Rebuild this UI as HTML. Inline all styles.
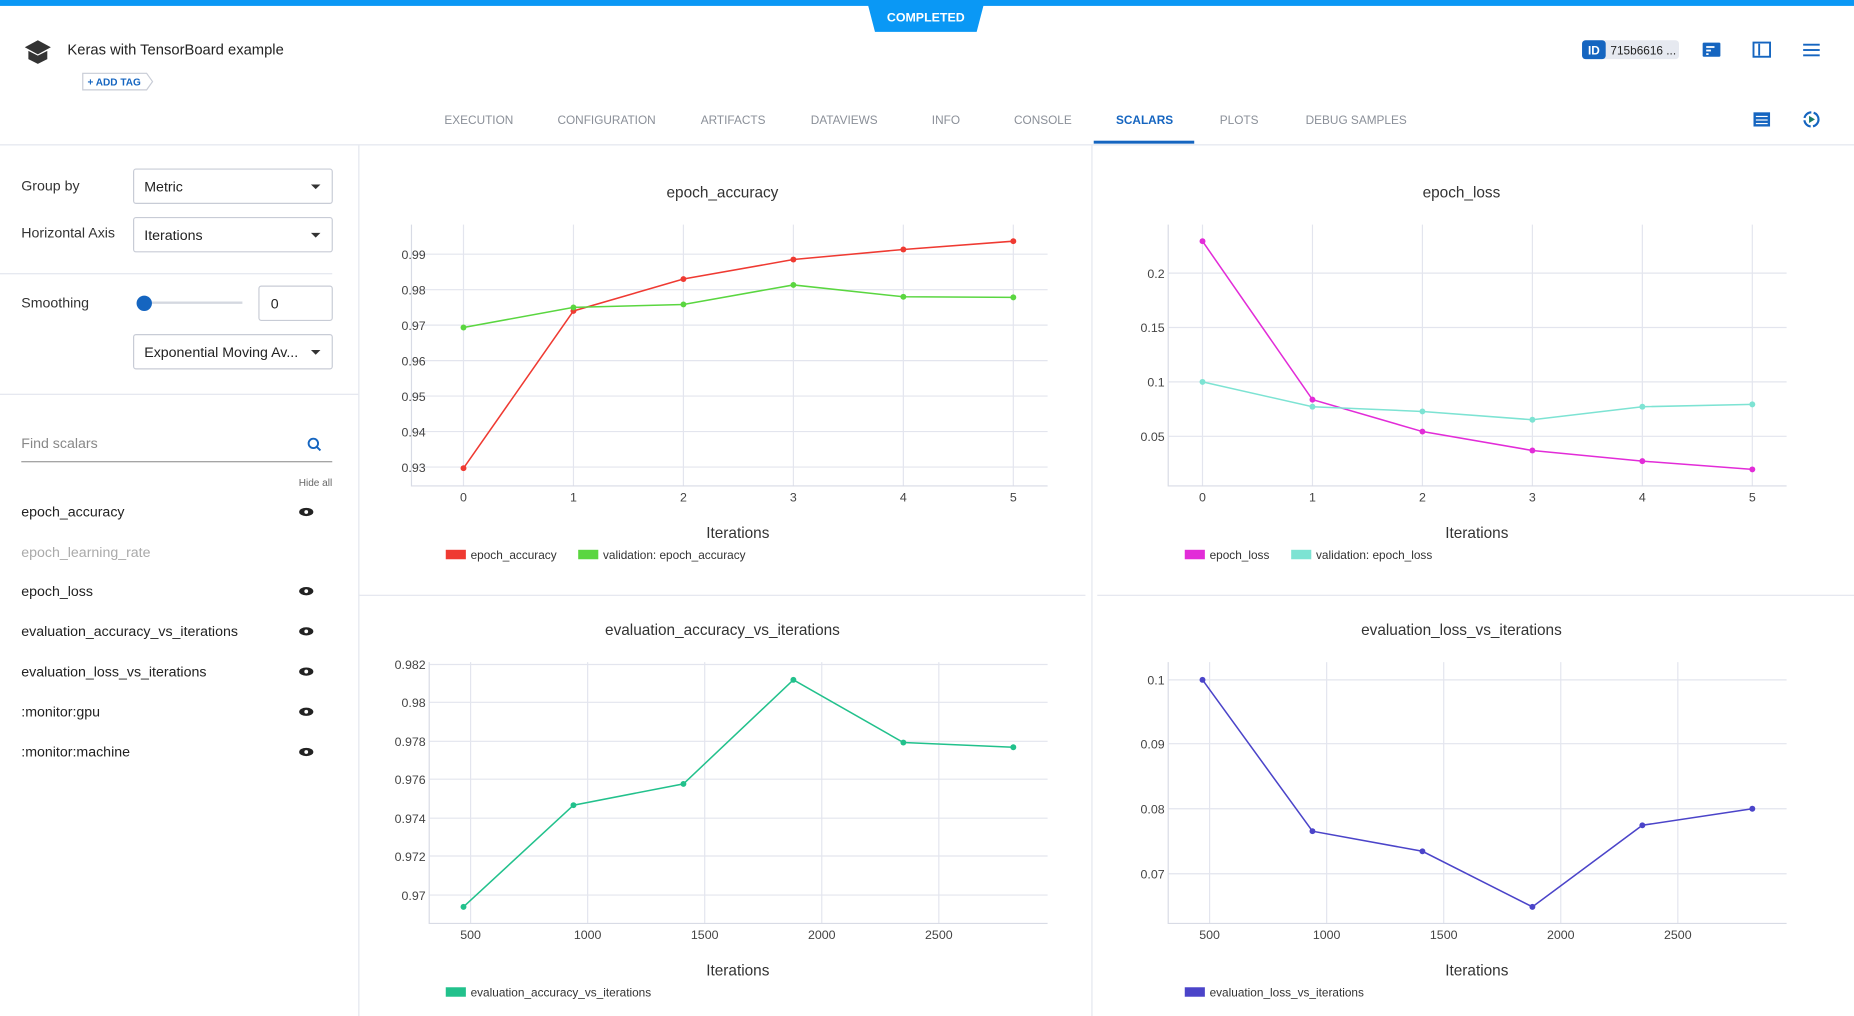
<!DOCTYPE html>
<html><head><meta charset="utf-8"><style>
html,body{margin:0;padding:0;background:#fff;overflow:hidden}
svg{display:block;font-family:"Liberation Sans",sans-serif}
</style></head><body>
<svg width="1854" height="1016" viewBox="0 0 1568 859.3" preserveAspectRatio="none" xmlns="http://www.w3.org/2000/svg">
<rect width="1568" height="860" fill="#fff"/>
<rect width="1568" height="5" fill="#0a98f5"/>
<polygon points="733,0 833,0 826,27 740,27" fill="#0a98f5"/>
<text x="783" y="18" font-size="10.5" fill="#fff" text-anchor="middle" font-weight="bold">COMPLETED</text>
<!-- logo -->
<polygon points="32,34 43,40 32,46 21,40" fill="#333"/>
<path d="M24,43 L24,50 L32,54 L40,50 L40,43 L32,47 Z" fill="#333"/>
<text x="57" y="46" font-size="12.5" fill="#222">Keras with TensorBoard example</text>
<path d="M70,62 H124 L129,69 L124,76 H70 Z" fill="#fff" stroke="#c8ccd6"/>
<text x="74" y="72.5" font-size="8.5" fill="#1565c0" font-weight="bold">+ ADD TAG</text>
<!-- id badge -->
<rect x="1338" y="34" width="82" height="16" rx="3" fill="#e6e9f0"/>
<rect x="1338" y="34" width="20" height="16" rx="3" fill="#1565c0"/>
<text x="1348" y="46" font-size="10" fill="#fff" font-weight="bold" text-anchor="middle">ID</text>
<text x="1362" y="46" font-size="10" fill="#222">715b6616 ...</text>
<rect x="1440" y="36" width="15" height="12" rx="1" fill="#1565c0"/>
<rect x="1443" y="39" width="7" height="1.5" fill="#fff"/><rect x="1443" y="42" width="4" height="1.5" fill="#fff"/><rect x="1443" y="45" width="2" height="1.5" fill="#fff"/>
<rect x="1483" y="36" width="14" height="12" fill="none" stroke="#1565c0" stroke-width="1.6"/><rect x="1487" y="37" width="1.6" height="10" fill="#1565c0"/>
<rect x="1525" y="37" width="14" height="1.6" fill="#1565c0"/><rect x="1525" y="41.5" width="14" height="1.6" fill="#1565c0"/><rect x="1525" y="46" width="14" height="1.6" fill="#1565c0"/>
<!-- tabs -->
<g font-size="10" fill="#8a8f98" text-anchor="middle">
<text x="405" y="105">EXECUTION</text><text x="513" y="105">CONFIGURATION</text><text x="620" y="105">ARTIFACTS</text><text x="714" y="105">DATAVIEWS</text><text x="800" y="105">INFO</text><text x="882" y="105">CONSOLE</text><text x="968" y="105" fill="#1565c0" font-weight="bold">SCALARS</text><text x="1048" y="105">PLOTS</text><text x="1147" y="105">DEBUG SAMPLES</text>
</g>
<rect x="925" y="119" width="85" height="2.5" fill="#1565c0"/>
<rect x="1483" y="95" width="14" height="12" fill="#1565c0"/><rect x="1485" y="98" width="10" height="1" fill="#fff"/><rect x="1485" y="101" width="10" height="1" fill="#fff"/><rect x="1485" y="104" width="10" height="1" fill="#fff"/>
<circle cx="1532" cy="101" r="6" fill="none" stroke="#1565c0" stroke-width="1.8" stroke-dasharray="8,2"/><polygon points="1530,98 1535,101 1530,104" fill="#1a7a6a"/>
<rect x="0" y="122" width="1568" height="1" fill="#e3e6ee"/>
<!-- left panel -->
<rect x="303" y="123" width="1" height="737" fill="#e3e6ee"/>
<g font-size="12" fill="#333">
<text x="18" y="161">Group by</text><text x="18" y="201">Horizontal Axis</text><text x="18" y="260">Smoothing</text>
</g>
<rect x="113" y="143" width="168" height="29" rx="2" fill="#fff" stroke="#c8ccd6"/>
<text x="122" y="162" font-size="12" fill="#222">Metric</text><polygon points="263,156 271,156 267,160" fill="#333"/>
<rect x="113" y="184" width="168" height="29" rx="2" fill="#fff" stroke="#c8ccd6"/>
<text x="122" y="203" font-size="12" fill="#222">Iterations</text><polygon points="263,197 271,197 267,201" fill="#333"/>
<rect x="0" y="231" width="281" height="1" fill="#e3e6ee"/>
<rect x="122" y="255" width="83" height="2" fill="#d4d8e0"/><circle cx="122" cy="256.5" r="6.5" fill="#1565c0"/>
<rect x="219" y="242" width="62" height="29" rx="2" fill="#fff" stroke="#c8ccd6"/><text x="229" y="261" font-size="12" fill="#222">0</text>
<rect x="113" y="283" width="168" height="29" rx="2" fill="#fff" stroke="#c8ccd6"/>
<text x="122" y="302" font-size="12" fill="#222">Exponential Moving Av...</text><polygon points="263,296 271,296 267,300" fill="#333"/>
<rect x="0" y="333" width="303" height="1" fill="#e3e6ee"/>
<text x="18" y="379" font-size="12" fill="#888">Find scalars</text>
<rect x="18" y="390" width="263" height="1" fill="#999"/>
<circle cx="265" cy="375" r="4" fill="none" stroke="#1565c0" stroke-width="1.6"/><line x1="268" y1="378" x2="271" y2="381" stroke="#1565c0" stroke-width="1.6"/>
<text x="281" y="411" font-size="8.5" fill="#666" text-anchor="end">Hide all</text>
<g font-size="12" fill="#222">
<text x="18" y="437">epoch_accuracy</text><text x="18" y="471" fill="#aaa">epoch_learning_rate</text><text x="18" y="504">epoch_loss</text><text x="18" y="538">evaluation_accuracy_vs_iterations</text><text x="18" y="572">evaluation_loss_vs_iterations</text><text x="18" y="606">:monitor:gpu</text><text x="18" y="640">:monitor:machine</text>
</g>
<g fill="#222">
<g transform="translate(259,433)"><ellipse rx="6" ry="3.5"/><circle r="1.6" fill="#fff"/></g>
<g transform="translate(259,500)"><ellipse rx="6" ry="3.5"/><circle r="1.6" fill="#fff"/></g>
<g transform="translate(259,534)"><ellipse rx="6" ry="3.5"/><circle r="1.6" fill="#fff"/></g>
<g transform="translate(259,568)"><ellipse rx="6" ry="3.5"/><circle r="1.6" fill="#fff"/></g>
<g transform="translate(259,602)"><ellipse rx="6" ry="3.5"/><circle r="1.6" fill="#fff"/></g>
<g transform="translate(259,636)"><ellipse rx="6" ry="3.5"/><circle r="1.6" fill="#fff"/></g>
</g>
<!-- panel separators -->
<rect x="923" y="123" width="1" height="737" fill="#e3e6ee"/>
<rect x="304" y="503" width="614" height="1" fill="#e3e6ee"/>
<rect x="928" y="503" width="640" height="1" fill="#e3e6ee"/>

<g stroke="#e3e5ee" stroke-width="1" fill="none">
<!-- chart1 grid -->
<path d="M392,190V411M485,190V411M578,190V411M671,190V411M764,190V411M857,190V411"/>
<path d="M348,215H886M348,245H886M348,275H886M348,305H886M348,335H886M348,365H886M348,395H886"/>
<path d="M348,190V411H886" stroke="#d8dbe5"/>
<!-- chart2 -->
<path d="M1017,190V411M1110,190V411M1203,190V411M1296,190V411M1389,190V411M1482,190V411"/>
<path d="M988,231H1511M988,277H1511M988,323H1511M988,369H1511"/>
<path d="M988,190V411H1511" stroke="#d8dbe5"/>
<!-- chart3 -->
<path d="M398,560V781M497,560V781M596,560V781M695,560V781M794,560V781"/>
<path d="M363,562H886M363,594H886M363,627H886M363,659H886M363,692H886M363,724H886M363,757H886"/>
<path d="M363,560V781H886" stroke="#d8dbe5"/>
<!-- chart4 -->
<path d="M1023,560V781M1122,560V781M1221,560V781M1320,560V781M1419,560V781"/>
<path d="M988,575H1511M988,629H1511M988,684H1511M988,739H1511"/>
<path d="M988,560V781H1511" stroke="#d8dbe5"/>
</g>
<g font-size="13" fill="#333" text-anchor="middle">
<text x="611" y="167">epoch_accuracy</text><text x="1236" y="167">epoch_loss</text>
<text x="611" y="537">evaluation_accuracy_vs_iterations</text><text x="1236" y="537">evaluation_loss_vs_iterations</text>
<text x="624" y="455">Iterations</text><text x="1249" y="455">Iterations</text>
<text x="624" y="825">Iterations</text><text x="1249" y="825">Iterations</text>
</g>
<g font-size="10.5" fill="#444" text-anchor="end">
<text x="360" y="219">0.99</text><text x="360" y="249">0.98</text><text x="360" y="279">0.97</text><text x="360" y="309">0.96</text><text x="360" y="339">0.95</text><text x="360" y="369">0.94</text><text x="360" y="399">0.93</text>
<text x="985" y="235">0.2</text><text x="985" y="281">0.15</text><text x="985" y="327">0.1</text><text x="985" y="373">0.05</text>
<text x="360" y="566">0.982</text><text x="360" y="598">0.98</text><text x="360" y="631">0.978</text><text x="360" y="663">0.976</text><text x="360" y="696">0.974</text><text x="360" y="728">0.972</text><text x="360" y="761">0.97</text>
<text x="985" y="579">0.1</text><text x="985" y="633">0.09</text><text x="985" y="688">0.08</text><text x="985" y="743">0.07</text>
</g>
<g font-size="10.5" fill="#444" text-anchor="middle">
<text x="392" y="424">0</text><text x="485" y="424">1</text><text x="578" y="424">2</text><text x="671" y="424">3</text><text x="764" y="424">4</text><text x="857" y="424">5</text>
<text x="1017" y="424">0</text><text x="1110" y="424">1</text><text x="1203" y="424">2</text><text x="1296" y="424">3</text><text x="1389" y="424">4</text><text x="1482" y="424">5</text>
<text x="398" y="794">500</text><text x="497" y="794">1000</text><text x="596" y="794">1500</text><text x="695" y="794">2000</text><text x="794" y="794">2500</text>
<text x="1023" y="794">500</text><text x="1122" y="794">1000</text><text x="1221" y="794">1500</text><text x="1320" y="794">2000</text><text x="1419" y="794">2500</text>
</g>
<!-- series -->
<g fill="none" stroke-width="1.3">
<polyline stroke="#ef3a32" points="392,396 485,263 578,236 671,219.5 764,211 857,204"/>
<polyline stroke="#5ad640" points="392,277 485,260 578,257.5 671,241 764,251 857,251.5"/>
<polyline stroke="#e22cd8" points="1017,204 1110,338 1203,365 1296,381 1389,390 1482,397"/>
<polyline stroke="#7de3d3" points="1017,323 1110,344 1203,348 1296,355 1389,344 1482,342"/>
<polyline stroke="#22c18c" points="392,767 485,681 578,663 671,575 764,628 857,632"/>
<polyline stroke="#4b44c9" points="1017,575 1110,703 1203,720 1296,767 1389,698 1482,684"/>
</g>
<g fill="#ef3a32"><circle cx="392" cy="396" r="2.5"/><circle cx="485" cy="263" r="2.5"/><circle cx="578" cy="236" r="2.5"/><circle cx="671" cy="219.5" r="2.5"/><circle cx="764" cy="211" r="2.5"/><circle cx="857" cy="204" r="2.5"/></g>
<g fill="#5ad640"><circle cx="392" cy="277" r="2.5"/><circle cx="485" cy="260" r="2.5"/><circle cx="578" cy="257.5" r="2.5"/><circle cx="671" cy="241" r="2.5"/><circle cx="764" cy="251" r="2.5"/><circle cx="857" cy="251.5" r="2.5"/></g>
<g fill="#e22cd8"><circle cx="1017" cy="204" r="2.5"/><circle cx="1110" cy="338" r="2.5"/><circle cx="1203" cy="365" r="2.5"/><circle cx="1296" cy="381" r="2.5"/><circle cx="1389" cy="390" r="2.5"/><circle cx="1482" cy="397" r="2.5"/></g>
<g fill="#7de3d3"><circle cx="1017" cy="323" r="2.5"/><circle cx="1110" cy="344" r="2.5"/><circle cx="1203" cy="348" r="2.5"/><circle cx="1296" cy="355" r="2.5"/><circle cx="1389" cy="344" r="2.5"/><circle cx="1482" cy="342" r="2.5"/></g>
<g fill="#22c18c"><circle cx="392" cy="767" r="2.5"/><circle cx="485" cy="681" r="2.5"/><circle cx="578" cy="663" r="2.5"/><circle cx="671" cy="575" r="2.5"/><circle cx="764" cy="628" r="2.5"/><circle cx="857" cy="632" r="2.5"/></g>
<g fill="#4b44c9"><circle cx="1017" cy="575" r="2.5"/><circle cx="1110" cy="703" r="2.5"/><circle cx="1203" cy="720" r="2.5"/><circle cx="1296" cy="767" r="2.5"/><circle cx="1389" cy="698" r="2.5"/><circle cx="1482" cy="684" r="2.5"/></g>
<!-- legends -->
<rect x="377" y="465" width="17" height="8" fill="#ef3a32"/><rect x="489" y="465" width="17" height="8" fill="#5ad640"/>
<rect x="1002" y="465" width="17" height="8" fill="#e22cd8"/><rect x="1092" y="465" width="17" height="8" fill="#7de3d3"/>
<rect x="377" y="835" width="17" height="8" fill="#22c18c"/><rect x="1002" y="835" width="17" height="8" fill="#4b44c9"/>
<g font-size="10" fill="#333">
<text x="398" y="473">epoch_accuracy</text><text x="510" y="473">validation: epoch_accuracy</text>
<text x="1023" y="473">epoch_loss</text><text x="1113" y="473">validation: epoch_loss</text>
<text x="398" y="843">evaluation_accuracy_vs_iterations</text><text x="1023" y="843">evaluation_loss_vs_iterations</text>
</g>
</svg>
</body></html>
